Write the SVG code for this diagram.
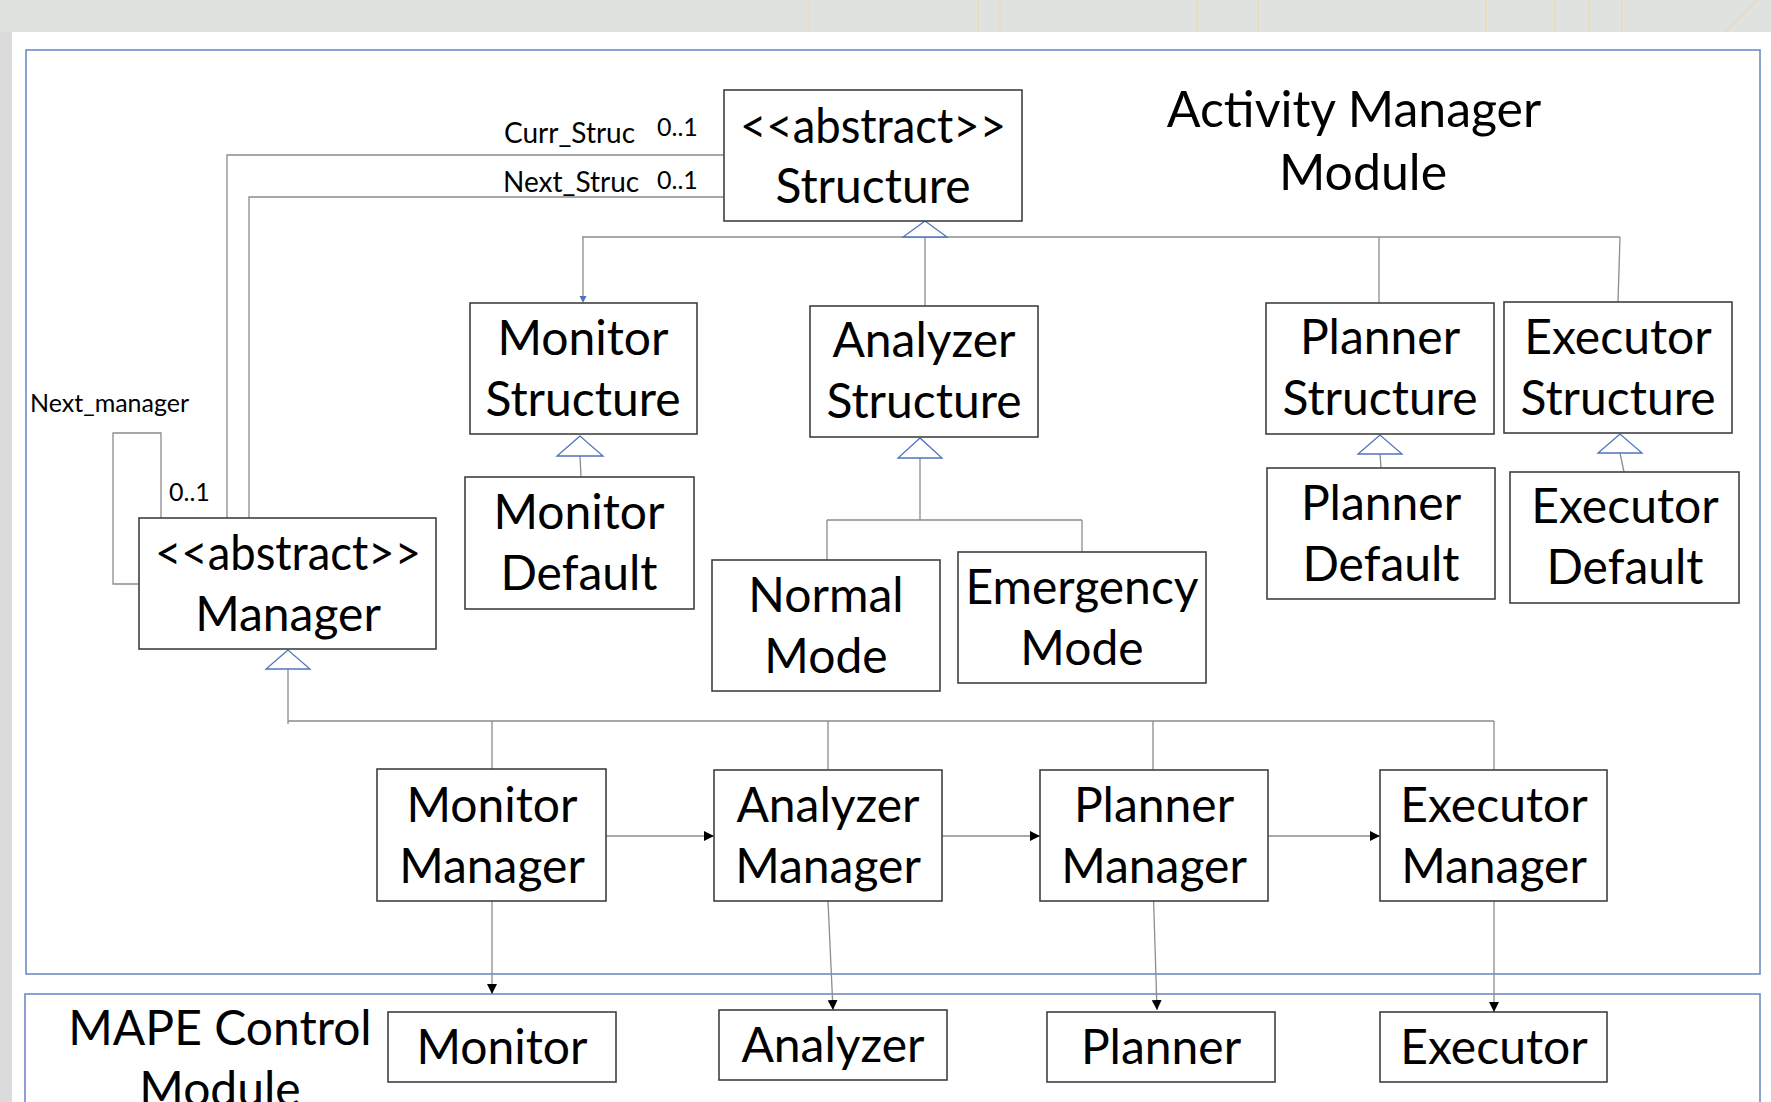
<svg xmlns="http://www.w3.org/2000/svg" width="1771" height="1102" viewBox="0 0 1771 1102">
<defs>
<style>
.bg{fill:#ffffff}
.box{fill:#ffffff;stroke:#404040;stroke-width:1.6}
.mod{fill:none;stroke:#6d8cc6;stroke-width:1.6}
.c{fill:none;stroke:#8c8c8c;stroke-width:1.3}
.gen{fill:#ffffff;stroke:#4f74bb;stroke-width:1.3}
.t{font-family:"Lato","Liberation Sans",sans-serif;font-size:48px;fill:#000;text-anchor:middle}
.title{font-family:"Lato","Liberation Sans",sans-serif;font-size:50px;fill:#000;text-anchor:middle}
.lbl{font-family:"Lato","Liberation Sans",sans-serif;font-size:25px;fill:#000}
.lbl2{font-family:"Lato","Liberation Sans",sans-serif;font-size:28px;fill:#000}
.gold{stroke:#eadcbc;stroke-width:2;fill:none}
</style>
<marker id="arr" viewBox="0 0 10 10" refX="10" refY="5" markerWidth="10" markerHeight="10" markerUnits="userSpaceOnUse" orient="auto">
<path d="M0,0 L10,5 L0,10 Z" fill="#000"/>
</marker>
</defs>

<rect class="bg" x="0" y="0" width="1771" height="1102"/>
<rect x="0" y="0" width="1771" height="32" fill="#e0e2df"/>
<rect x="0" y="32" width="12" height="1070" fill="#dadbda"/>
<g id="slide-decoration">
<line class="gold" x1="809" y1="0" x2="809" y2="32"/>
<line class="gold" x1="978" y1="0" x2="978" y2="32"/>
<line class="gold" x1="1000" y1="0" x2="1000" y2="32"/>
<line class="gold" x1="1197" y1="0" x2="1197" y2="32"/>
<line class="gold" x1="1258" y1="0" x2="1258" y2="32"/>
<line class="gold" x1="1486" y1="0" x2="1486" y2="32"/>
<line class="gold" x1="1555" y1="0" x2="1555" y2="32"/>
<line class="gold" x1="1589" y1="0" x2="1589" y2="32"/>
<line class="gold" x1="1622" y1="0" x2="1622" y2="32"/>
<line class="gold" x1="1757" y1="0" x2="1725" y2="32"/>
</g>

<g id="activity-manager-module">
<rect class="mod" x="26" y="50" width="1734" height="924"/>
<text class="title" x="1354" y="127">Activity Manager</text>
<text class="title" x="1363" y="190">Module</text>
</g>
<g id="mape-control-module">
<rect class="mod" x="25" y="994" width="1735" height="130"/>
<text class="title" x="220" y="1045" style="font-size:48px">MAPE Control</text>
<text class="title" x="220" y="1106" style="font-size:48px">Module</text>
</g>

<g id="connectors">
<path class="c" d="M724,155 H227 V518"/>
<path class="c" d="M724,197 H249 V518"/>
<path class="c" d="M161,518 V433 H113 V584 H139"/>
<path class="c" d="M582,237 H1620"/>
<path class="c" d="M583,237 V300"/>
<path class="c" d="M925,237 V306"/>
<path class="c" d="M1379,237 V303"/>
<path class="c" d="M1620,237 L1618,302"/>
<path d="M579.5,296 L586.5,296 L583,303 Z" fill="#4f74bb"/>
<path class="c" d="M580,456 L581,477"/>
<path class="c" d="M920,458 V520 M827,520 H1082 M827,520 V560 M1082,520 V552"/>
<path class="c" d="M1380,454 L1381,468"/>
<path class="c" d="M1620,453 L1624,472"/>
<path class="c" d="M288,669 V724 M288,721 H1494 M492,721 V769 M828,721 V770 M1153,721 V770 M1494,721 V770"/>
<path class="c" d="M606,836 H714" marker-end="url(#arr)"/>
<path class="c" d="M942,836 H1040" marker-end="url(#arr)"/>
<path class="c" d="M1268,836 H1380" marker-end="url(#arr)"/>
<path class="c" d="M492,901 V994" marker-end="url(#arr)"/>
<path class="c" d="M828,901 L833,1010" marker-end="url(#arr)"/>
<path class="c" d="M1153,882 L1157,1010" marker-end="url(#arr)"/>
<path class="c" d="M1494,901 V1012" marker-end="url(#arr)"/>
<polygon class="gen" points="925,221 903,237 947,237"/>
<polygon class="gen" points="580,436 557,456 603,456"/>
<polygon class="gen" points="920,438 898,458 942,458"/>
<polygon class="gen" points="1380,435 1358,454 1402,454"/>
<polygon class="gen" points="1620,434 1598,453 1642,453"/>
<polygon class="gen" points="288,650 266,669 310,669"/>
<text class="lbl2" x="504" y="143">Curr_Struc</text>
<text class="lbl" x="657" y="136">0..1</text>
<text class="lbl2" x="503" y="192">Next_Struc</text>
<text class="lbl" x="657" y="189">0..1</text>
<text class="lbl" x="30" y="412">Next_manager</text>
<text class="lbl" x="169" y="501">0..1</text>
</g>

<g id="structure">
<rect class="box" x="724" y="90" width="298" height="131"/>
<text class="t" x="873" y="143" textLength="266" lengthAdjust="spacingAndGlyphs">&lt;&lt;abstract&gt;&gt;</text>
<text class="t" x="873" y="203">Structure</text>
</g>
<g id="manager">
<rect class="box" x="139" y="518" width="297" height="131"/>
<text class="t" x="288" y="570" textLength="266" lengthAdjust="spacingAndGlyphs">&lt;&lt;abstract&gt;&gt;</text>
<text class="t" x="288" y="631">Manager</text>
</g>
<g id="monitor-structure">
<rect class="box" x="470" y="303" width="227" height="131"/>
<text class="t" x="583" y="355">Monitor</text>
<text class="t" x="583" y="416">Structure</text>
</g>
<g id="monitor-default">
<rect class="box" x="465" y="477" width="229" height="132"/>
<text class="t" x="579" y="529">Monitor</text>
<text class="t" x="579" y="590">Default</text>
</g>
<g id="analyzer-structure">
<rect class="box" x="810" y="306" width="228" height="131"/>
<text class="t" x="924" y="357">Analyzer</text>
<text class="t" x="924" y="418">Structure</text>
</g>
<g id="normal-mode">
<rect class="box" x="712" y="560" width="228" height="131"/>
<text class="t" x="826" y="612">Normal</text>
<text class="t" x="826" y="673">Mode</text>
</g>
<g id="emergency-mode">
<rect class="box" x="958" y="552" width="248" height="131"/>
<text class="t" x="1082" y="604">Emergency</text>
<text class="t" x="1082" y="665">Mode</text>
</g>
<g id="planner-structure">
<rect class="box" x="1266" y="303" width="228" height="131"/>
<text class="t" x="1380" y="354">Planner</text>
<text class="t" x="1380" y="415">Structure</text>
</g>
<g id="executor-structure">
<rect class="box" x="1504" y="302" width="228" height="131"/>
<text class="t" x="1618" y="354">Executor</text>
<text class="t" x="1618" y="415">Structure</text>
</g>
<g id="planner-default">
<rect class="box" x="1267" y="468" width="228" height="131"/>
<text class="t" x="1381" y="520">Planner</text>
<text class="t" x="1381" y="581">Default</text>
</g>
<g id="executor-default">
<rect class="box" x="1510" y="472" width="229" height="131"/>
<text class="t" x="1625" y="523">Executor</text>
<text class="t" x="1625" y="584">Default</text>
</g>
<g id="monitor-manager">
<rect class="box" x="377" y="769" width="229" height="132"/>
<text class="t" x="492" y="822">Monitor</text>
<text class="t" x="492" y="883">Manager</text>
</g>
<g id="analyzer-manager">
<rect class="box" x="714" y="770" width="228" height="131"/>
<text class="t" x="828" y="822">Analyzer</text>
<text class="t" x="828" y="883">Manager</text>
</g>
<g id="planner-manager">
<rect class="box" x="1040" y="770" width="228" height="131"/>
<text class="t" x="1154" y="822">Planner</text>
<text class="t" x="1154" y="883">Manager</text>
</g>
<g id="executor-manager">
<rect class="box" x="1380" y="770" width="227" height="131"/>
<text class="t" x="1494" y="822">Executor</text>
<text class="t" x="1494" y="883">Manager</text>
</g>
<g id="monitor">
<rect class="box" x="388" y="1012" width="228" height="70"/>
<text class="t" x="502" y="1064">Monitor</text>
</g>
<g id="analyzer">
<rect class="box" x="719" y="1010" width="228" height="70"/>
<text class="t" x="833" y="1062">Analyzer</text>
</g>
<g id="planner">
<rect class="box" x="1047" y="1012" width="228" height="70"/>
<text class="t" x="1161" y="1064">Planner</text>
</g>
<g id="executor">
<rect class="box" x="1380" y="1012" width="227" height="70"/>
<text class="t" x="1494" y="1064">Executor</text>
</g>
</svg>
